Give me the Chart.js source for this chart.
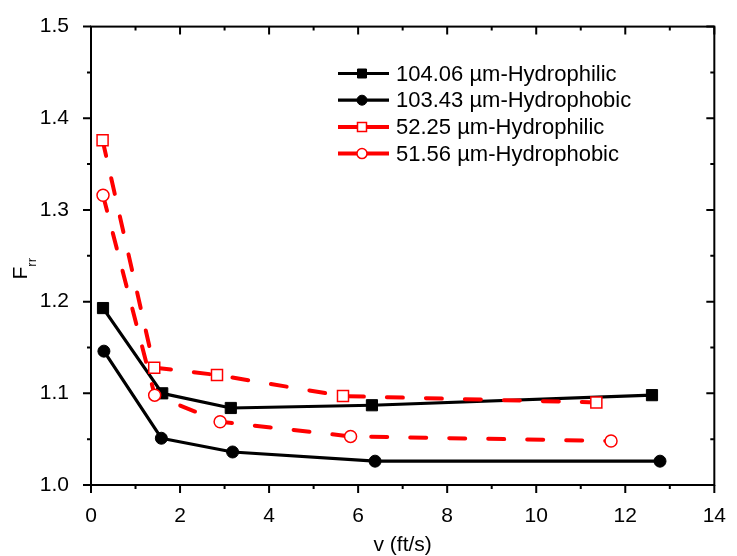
<!DOCTYPE html>
<html><head><meta charset="utf-8">
<script src="https://cdn.jsdelivr.net/npm/chart.js@4/dist/chart.umd.min.js"></script>
<style>html,body{margin:0;padding:0;background:#fff}#wrap{width:737px;height:556px}</style>
</head><body><div id="wrap"><canvas id="c" width="737" height="556"></canvas></div>
<script>
// ---- data ----
const seriesNames = ['104.06 µm-Hydrophilic', '103.43 µm-Hydrophobic', '52.25 µm-Hydrophilic', '51.56 µm-Hydrophobic'];
const xPhilic104 = [0.27, 1.60, 3.14, 6.31, 12.60];
const yPhilic104 = [1.193, 1.100, 1.084, 1.087, 1.098];
const xPhobic103 = [0.29, 1.58, 3.18, 6.38, 12.78];
const yPhobic103 = [1.146, 1.051, 1.036, 1.026, 1.026];
const xPhilic52 = [0.26, 1.42, 2.83, 5.66, 11.35];
const yPhilic52 = [1.376, 1.128, 1.120, 1.097, 1.090];
const xPhobic51 = [0.27, 1.43, 2.90, 5.83, 11.68];
const yPhobic51 = [1.316, 1.098, 1.069, 1.053, 1.048];
const xTickLabels = [0, 2, 4, 6, 8, 10, 12, 14];
const yTickLabels = ['1.0', '1.1', '1.2', '1.3', '1.4', '1.5'];
const xTitle = 'v (ft/s)';
const yTitleMain = 'F', yTitleSub = 'rr';

const FONT = "'Liberation Sans', Arial, sans-serif";
const pts = (xs, ys) => xs.map((x, i) => ({x: x, y: ys[i]}));

const styles = [
  {color:'#000', fill:'#000', shape:'rect', radius:7.9, lw:3.2, dash:[], order:2, pbw:1},
  {color:'#000', fill:'#000', shape:'circle', radius:6, lw:3.2, dash:[], order:2, pbw:1},
  {color:'#ff0000', fill:'#fff', shape:'rect', radius:7.8, lw:4, dash:[16,23], order:1, pbw:1.5},
  {color:'#ff0000', fill:'#fff', shape:'circle', radius:6, lw:4, dash:[16,23], order:1, pbw:1.5}
];
const dataSets = [pts(xPhilic104, yPhilic104), pts(xPhobic103, yPhobic103), pts(xPhilic52, yPhilic52), pts(xPhobic51, yPhobic51)];

const datasets = dataSets.map((d, i) => ({
  label: seriesNames[i], data: d, showLine: true,
  borderColor: styles[i].color, borderWidth: styles[i].lw, borderDash: styles[i].dash,
  borderCapStyle: 'round', borderJoinStyle: 'round',
  pointStyle: styles[i].shape, pointRadius: styles[i].radius,
  pointBackgroundColor: styles[i].fill, pointBorderColor: styles[i].color,
  pointBorderWidth: styles[i].pbw, order: styles[i].order, tension: 0
}));

const framePlugin = {
  id: 'frame',
  afterDraw(chart) {
    const ctx = chart.ctx, a = chart.chartArea, xs = chart.scales.x, ys = chart.scales.y;
    ctx.save();
    ctx.strokeStyle = '#000'; ctx.lineWidth = 2;
    ctx.strokeRect(a.left, a.top, a.right - a.left, a.bottom - a.top);
    ctx.beginPath();
    for (let v = 0; v <= 14; v++) {
      const p = xs.getPixelForValue(v), L = v % 2 === 0 ? 8 : 4;
      ctx.moveTo(p, a.bottom); ctx.lineTo(p, a.bottom + L);
      ctx.moveTo(p, a.top); ctx.lineTo(p, a.top + L);
    }
    for (let k = 0; k <= 10; k++) {
      const p = ys.getPixelForValue(1 + k * 0.05), L = k % 2 === 0 ? 8 : 4;
      ctx.moveTo(a.left, p); ctx.lineTo(a.left - L, p);
      ctx.moveTo(a.right, p); ctx.lineTo(a.right - L, p);
    }
    ctx.stroke();

    // y title with subscript
    ctx.fillStyle = '#000';
    ctx.translate(27, 279.5); ctx.rotate(-Math.PI / 2);
    ctx.textAlign = 'left'; ctx.textBaseline = 'alphabetic';
    ctx.font = '21px ' + FONT;
    ctx.fillText(yTitleMain, 0, 0);
    const w = ctx.measureText(yTitleMain).width;
    ctx.font = '13px ' + FONT;
    ctx.fillText(yTitleSub, w, 9);
    ctx.restore();

    // legend
    ctx.save();
    const lx0 = 338, lx1 = 389, mx = 362, tx = 396, y0 = 73.5, dy = 26.7;
    for (let i = 0; i < 4; i++) {
      const y = y0 + i * dy, s = styles[i];
      ctx.strokeStyle = s.color; ctx.lineWidth = s.lw; ctx.setLineDash([]); ctx.lineCap = 'butt';
      ctx.beginPath(); ctx.moveTo(lx0, y); ctx.lineTo(lx1, y); ctx.stroke();
      ctx.fillStyle = s.fill; ctx.lineWidth = s.pbw;
      ctx.beginPath();
      if (s.shape === 'rect') { ctx.rect(mx - 4.5, y - 4.5, 9, 9); }
      else { ctx.arc(mx, y, 5, 0, Math.PI * 2); }
      ctx.fill(); ctx.stroke();
      ctx.fillStyle = '#000'; ctx.font = '22px ' + FONT;
      ctx.textAlign = 'left'; ctx.textBaseline = 'middle';
      ctx.fillText(seriesNames[i], tx, y + 1);
    }
    ctx.restore();
  }
};

new Chart(document.getElementById('c'), {
  type: 'scatter',
  data: { datasets },
  plugins: [framePlugin],
  options: {
    responsive: false, animation: false,
    layout: { padding: { left: 0, right: 14, top: 22, bottom: 0 } },
    plugins: { legend: { display: false }, tooltip: { enabled: false } },
    scales: {
      x: {
        type: 'linear', min: 0, max: 14,
        grid: { display: false }, border: { display: false },
        afterBuildTicks: s => { s.ticks = xTickLabels.map(v => ({value: v})); },
        ticks: { font: { family: FONT, size: 21 }, color: '#000', padding: 11, maxRotation: 0, autoSkip: false },
        title: { display: true, text: xTitle, color: '#000', font: { family: FONT, size: 21, lineHeight: 1 }, padding: { top: 0, bottom: 0 } },
        afterFit: s => { s.height = 71; }
      },
      y: {
        type: 'linear', min: 1, max: 1.5,
        grid: { display: false }, border: { display: false },
        afterBuildTicks: s => { s.ticks = yTickLabels.map(v => ({value: parseFloat(v)})); },
        ticks: { font: { family: FONT, size: 21 }, color: '#000', padding: 14, autoSkip: false,
                 callback: (v, i) => yTickLabels[i] },
        afterFit: s => { s.width = 91; }
      }
    }
  }
});
</script>
</body></html>
